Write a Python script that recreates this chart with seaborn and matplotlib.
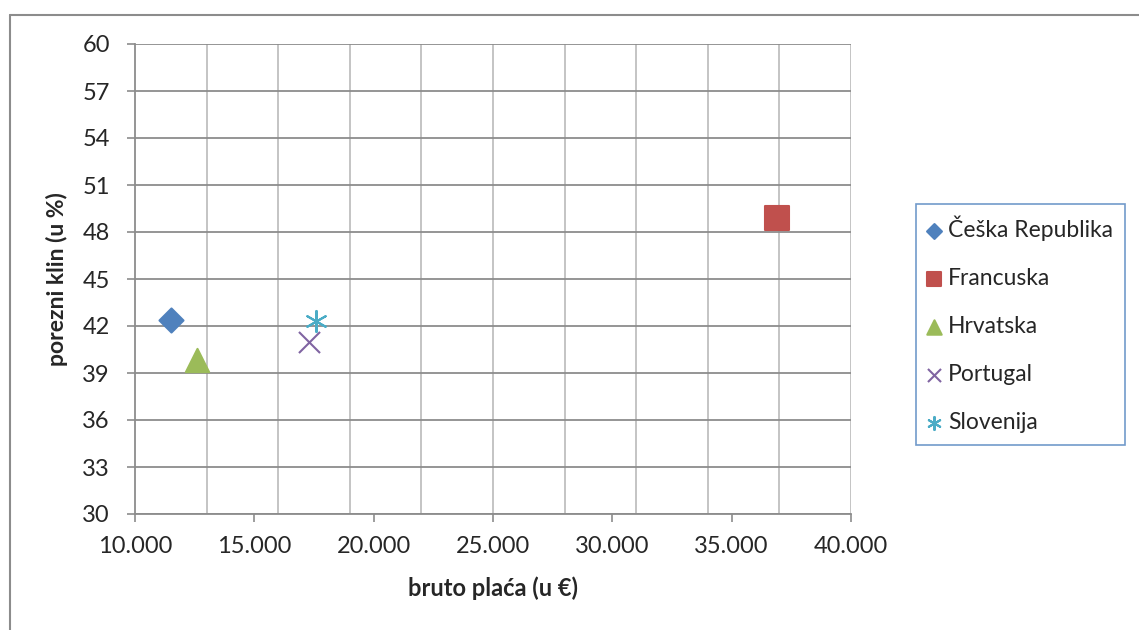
import pandas as pd
import matplotlib.pyplot as plt
import seaborn as sns
import numpy as np
from matplotlib.lines import Line2D

# data
countries = ['Češka Republika', 'Francuska', 'Hrvatska', 'Portugal', 'Slovenija']
bruto_placa = [11500, 36900, 12600, 17300, 17600]
porezni_klin = [42.4, 48.9, 39.8, 41.0, 42.3]

colors = ['#4F81BD', '#C0504D', '#9BBB59', '#8064A2', '#4BACC6']
markers = ['D', 's', '^', 'x', (6, 2, 0)]
sizes = [150, 300, 280, 230, 230]

df = pd.DataFrame({'country': countries, 'placa': bruto_placa, 'klin': porezni_klin})

sns.set_style('white')
plt.rcParams['font.family'] = ['Lato', 'DejaVu Sans']

fig = plt.figure(figsize=(11.39, 6.30), dpi=100)
ax = fig.add_axes([135 / 1139, 1 - 514 / 630, (851 - 135) / 1139, (514 - 44) / 630])

for i, c in enumerate(countries):
    sub = df[df['country'] == c]
    filled = markers[i] not in ['x'] and not isinstance(markers[i], tuple)
    sns.scatterplot(data=sub, x='placa', y='klin', ax=ax, color=colors[i],
                    marker=markers[i], s=sizes[i], label=c,
                    edgecolor=colors[i] if filled else None,
                    linewidth=1.5, zorder=3)

ax.set_xlim(10000, 40000)
ax.set_ylim(30, 60)
ax.set_xticks(np.arange(10000, 40001, 5000))
ax.set_xticklabels([f'{v:,}'.replace(',', '.') for v in range(10000, 40001, 5000)])
ax.set_yticks(np.arange(30, 61, 3))

# vertical gridlines every 3000 like the original
for gx in np.arange(13000, 40001, 3000):
    ax.axvline(gx, color='#BFBFBF', lw=1.3, zorder=0)
ax.yaxis.grid(True, color='#8C8C8C', lw=1.3, zorder=0)
ax.set_axisbelow(True)

for side in ['top', 'right']:
    ax.spines[side].set_visible(False)
for side in ['left', 'bottom']:
    ax.spines[side].set_color('#8C8C8C')
    ax.spines[side].set_linewidth(1.3)

ax.tick_params(axis='both', which='major', labelsize=17, direction='out',
               length=6, width=1.2, color='#8C8C8C', left=True, bottom=True, pad=10)
ax.tick_params(axis='y', pad=12)

ax.set_xlabel('bruto plaća (u €)', fontsize=17, fontweight='bold', labelpad=14)
ax.set_ylabel('porezni klin (u %)', fontsize=16.5, fontweight='bold', labelpad=10)

leg = ax.legend(loc='upper left', bbox_to_anchor=(916 / 1139, 1 - 204 / 630),
                bbox_transform=fig.transFigure, fontsize=16.5, frameon=True,
                fancybox=False, borderpad=0.5, labelspacing=1.18,
                handlelength=0.6, handletextpad=0.3, borderaxespad=0,
                markerscale=0.62)
leg.get_frame().set_edgecolor('#4F81BD')
leg.get_frame().set_linewidth(1.2)

# chart area border (only top and left visible in the original)
fig.add_artist(Line2D([9.5 / 1139, 1], [1 - 14.5 / 630] * 2, color='#8C8C8C', lw=1.5,
                      transform=fig.transFigure))
fig.add_artist(Line2D([9.5 / 1139] * 2, [0, 1 - 14.5 / 630], color='#8C8C8C', lw=1.5,
                      transform=fig.transFigure))

fig.savefig('out.png', dpi=100)
